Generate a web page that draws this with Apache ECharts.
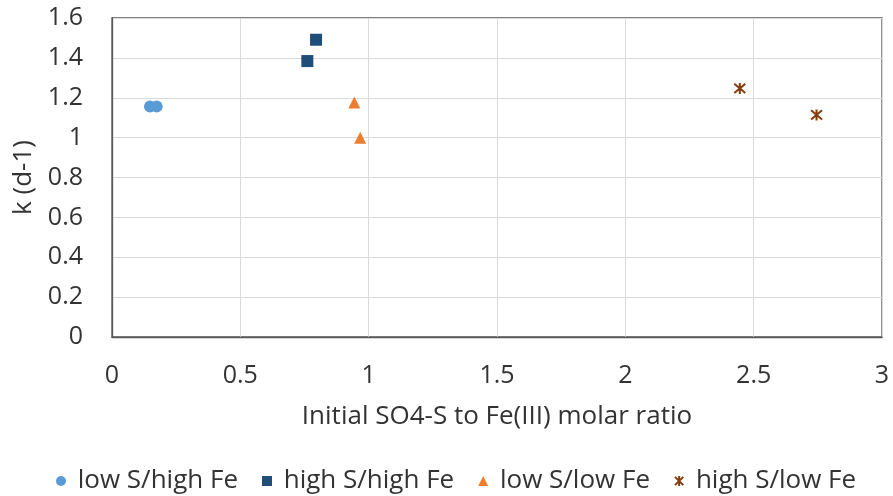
<!DOCTYPE html>
<html>
<head>
<meta charset="utf-8">
<script src="https://cdn.jsdelivr.net/npm/echarts@6/dist/echarts.min.js"></script>
<style>html,body{margin:0;padding:0;background:#fff}#c{width:893px;height:496px}</style>
</head>
<body>
<div id="c"></div>
<script>
var seriesNames = ['low S/high Fe', 'high S/high Fe', 'low S/low Fe', 'high S/low Fe'];
var lowSHighFe = [[0.148, 1.156], [0.174, 1.156]];
var highSHighFe = [[0.761, 1.384], [0.795, 1.491]];
var lowSLowFe = [[0.944, 1.176], [0.967, 1.0]];
var highSLowFe = [[2.446, 1.247], [2.745, 1.114]];
var xTitle = 'Initial SO4-S to Fe(III) molar ratio';
var yTitle = 'k (d-1)';

var FONT = 'Open Sans';
var TXT = '#333333';
var chart = echarts.init(document.getElementById('c'), null, {renderer: 'canvas'});
var starPath = 'path://M0,0 L10,10 M10,0 L0,10 M5,-1 L5,11';
chart.setOption({
  animation: false,
  textStyle: {fontFamily: FONT},
  grid: {left: 112, right: 11, top: 18, bottom: 159, containLabel: false,
         show: true, borderColor: '#595959', borderWidth: 1.3, backgroundColor: 'transparent'},
  legend: {
    top: 463, left: 51, itemGap: 24, itemWidth: 10, itemHeight: 10,
    textStyle: {fontFamily: FONT, fontSize: 26, color: TXT},
    formatter: function (n) { return ' ' + n; },
    data: seriesNames
  },
  xAxis: {
    type: 'value', min: 0, max: 3, interval: 0.5,
    name: xTitle, nameLocation: 'middle', nameGap: 67,
    nameTextStyle: {fontFamily: FONT, fontSize: 26, color: TXT},
    axisLine: {show: true, lineStyle: {color: '#595959', width: 1.3}},
    axisTick: {show: false},
    axisLabel: {fontFamily: FONT, fontSize: 25, color: TXT, margin: 26},
    splitLine: {show: true, lineStyle: {color: '#d9d9d9', width: 1}}
  },
  yAxis: {
    type: 'value', min: 0, max: 1.6, interval: 0.2,
    name: yTitle, nameLocation: 'middle', nameGap: 74, nameRotate: 90,
    nameTextStyle: {fontFamily: FONT, fontSize: 26, color: TXT},
    axisLine: {show: true, lineStyle: {color: '#595959', width: 1.3}},
    axisTick: {show: false},
    axisLabel: {fontFamily: FONT, fontSize: 25, color: TXT, margin: 29,
      formatter: function (v) { return String(Math.round(v * 10) / 10); }},
    splitLine: {show: true, lineStyle: {color: '#d9d9d9', width: 1}}
  },
  series: [
    {name: seriesNames[0], type: 'scatter', data: lowSHighFe, symbol: 'circle', symbolSize: 12,
     itemStyle: {color: '#5B9BD5', opacity: 1}},
    {name: seriesNames[1], type: 'scatter', data: highSHighFe, symbol: 'rect', symbolSize: 12,
     itemStyle: {color: '#1F4E79', opacity: 1}},
    {name: seriesNames[2], type: 'scatter', data: lowSLowFe, symbol: 'triangle', symbolSize: 12,
     itemStyle: {color: '#ED7D31', opacity: 1}},
    {name: seriesNames[3], type: 'scatter', data: highSLowFe, symbol: starPath, symbolSize: [11, 11],
     itemStyle: {color: '#843C0C', borderColor: '#843C0C', borderWidth: 2, opacity: 1}}
  ]
});
</script>
</body>
</html>
